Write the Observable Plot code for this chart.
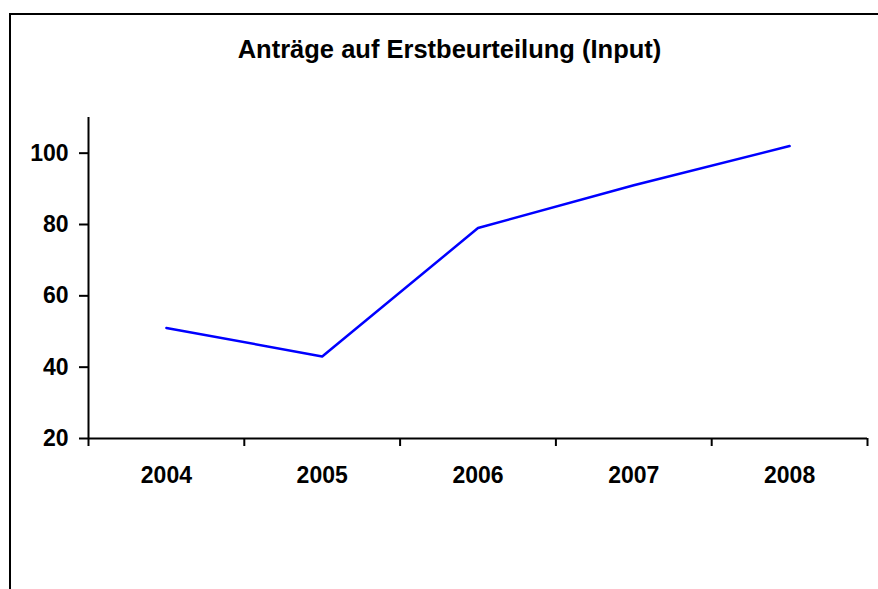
<!DOCTYPE html>
<html>
<head>
<meta charset="utf-8">
<script src="https://cdn.jsdelivr.net/npm/d3@7"></script>
<script src="https://cdn.jsdelivr.net/npm/@observablehq/plot@0.6"></script>
<style>
  html, body { margin: 0; padding: 0; background: #fff; overflow: hidden; }
  #wrap { position: relative; width: 878px; height: 589px; overflow: hidden; font-family: "Liberation Sans", Arial, sans-serif; }
  #frame { position: absolute; left: 9px; top: 13px; width: 1000px; height: 1000px; border-top: 2px solid #000; border-left: 2px solid #000; box-sizing: border-box; }
  #title { position: absolute; left: 0; width: 899px; top: 37px; text-align: center; font-weight: bold; font-size: 25.5px; color: #000; line-height: 1; }
  #chart { position: absolute; left: 0; top: 0; }
</style>
</head>
<body>
<div id="wrap">
  <div id="frame"></div>
  <div id="title">Anträge auf Erstbeurteilung (Input)</div>
  <div id="chart"></div>
</div>
<script>
const years = ["2004", "2005", "2006", "2007", "2008"];
const values = [51, 43, 79, 91, 102];
const yTicks = [20, 40, 60, 80, 100];

const data = years.map((year, i) => ({year, i, value: values[i]}));
const boundaries = d3.range(years.length + 1);
const centers = years.map((_, i) => i + 0.5);

const chart = Plot.plot({
  width: 878,
  height: 589,
  marginLeft: 88,
  marginRight: 11,
  marginTop: 117,
  marginBottom: 151,
  style: { fontFamily: "'Liberation Sans', Arial, sans-serif", background: "transparent", color: "#000" },
  x: { type: "linear", domain: [0, years.length] },
  y: { domain: [20, 110] },
  marks: [
    Plot.axisY({ ticks: yTicks, tickSize: 9, tickPadding: 11, fontSize: 23, fontWeight: "bold", strokeWidth: 2, label: null }),
    Plot.axisX({ ticks: boundaries, tickSize: 8, tickFormat: () => "", strokeWidth: 2, label: null }),
    Plot.axisX({ ticks: centers, tickSize: 0, tickPadding: 28, tickFormat: d => years[Math.round(d - 0.5)], fontSize: 23, fontWeight: "bold", label: null }),
    Plot.ruleX([0], { stroke: "#000", strokeWidth: 2 }),
    Plot.ruleY([20], { stroke: "#000", strokeWidth: 2 }),
    Plot.line(data, { x: d => d.i + 0.5, y: "value", stroke: "#0000ff", strokeWidth: 2.5 })
  ]
});
document.getElementById("chart").appendChild(chart);
</script>
</body>
</html>
